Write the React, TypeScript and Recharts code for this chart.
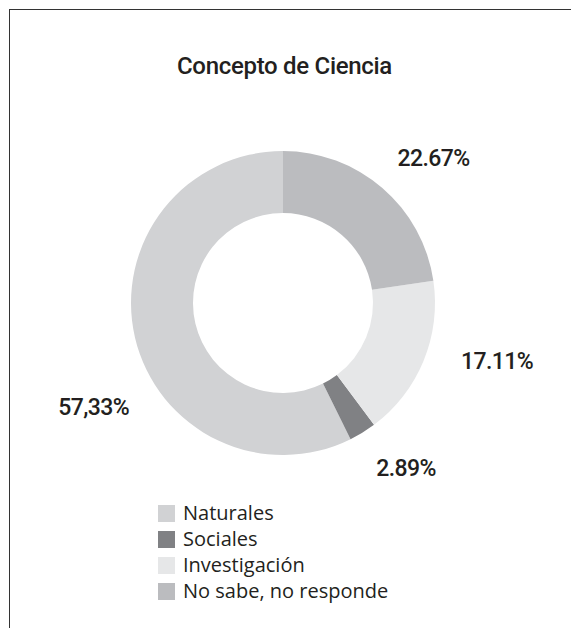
import React from "react";
import { PieChart, Pie, Cell, Legend } from "recharts";

const categories = ["Naturales", "Sociales", "Investigación", "No sabe, no responde"];
const values = [57.33, 2.89, 17.11, 22.67];
const valueLabels = ["57,33%", "2.89%", "17.11%", "22.67%"];
const colors = ["#d1d2d4", "#808184", "#e6e7e8", "#bbbcbf"];

const data = categories.map((name, i) => ({ name, value: values[i], label: valueLabels[i] }));

// label nudges (dx, dy) relative to the computed radial position
const labelNudge = [
  [17, 56],
  [12, -15],
  [18, -22],
  [12, 16],
];

const RADIAN = Math.PI / 180;

const renderLabel = (props: any) => {
  const { cx, cy, midAngle, outerRadius, index } = props;
  const r = outerRadius + 60;
  const x = cx + r * Math.cos(-midAngle * RADIAN) + labelNudge[index][0];
  const y = cy + r * Math.sin(-midAngle * RADIAN) + labelNudge[index][1];
  return (
    <text
      x={x}
      y={y}
      textAnchor="middle"
      dominantBaseline="central"
      fontFamily="Roboto"
      fontWeight={500}
      fontSize={23}
      letterSpacing={-0.6}
      fill="#231f20"
    >
      {valueLabels[index]}
    </text>
  );
};

const renderLegend = (props: any) => {
  const payload = [...(props.payload || [])].sort(
    (a: any, b: any) => categories.indexOf(a.value) - categories.indexOf(b.value)
  );
  return (
    <div>
      {payload.map((entry: any, i: number) => (
        <div key={i} style={{ display: "flex", alignItems: "center", height: 26 }}>
          <div style={{ width: 17, height: 17, background: entry.color, marginRight: 8 }} />
          <span style={{ fontFamily: "'Open Sans'", fontSize: 20, color: "#231f20", lineHeight: "26px" }}>
            {entry.value}
          </span>
        </div>
      ))}
    </div>
  );
};

export default function App() {
  return (
    <div style={{ position: "absolute", left: 0, top: 0, width: 571, height: 628, background: "#fff" }}>
      <div
        style={{
          position: "absolute",
          left: 9,
          top: 9,
          width: 562,
          height: 619,
          borderTop: "1px solid #333",
          borderLeft: "1px solid #333",
        }}
      />
      <div
        style={{
          position: "absolute",
          left: 0,
          top: 51,
          width: 569,
          textAlign: "center",
          fontFamily: "Roboto",
          fontWeight: 500,
          fontSize: 24,
          letterSpacing: -0.3,
          color: "#231f20",
          lineHeight: "30px",
        }}
      >
        Concepto de Ciencia
      </div>
      <div style={{ position: "absolute", left: 0, top: 0 }}>
        <PieChart width={571} height={628} margin={{ top: 0, right: 0, bottom: 0, left: 0 }}>
          <Pie
            data={data}
            dataKey="value"
            nameKey="name"
            cx={283}
            cy={303}
            innerRadius={90}
            outerRadius={152}
            startAngle={90}
            endAngle={450}
            stroke="none"
            label={renderLabel}
            labelLine={false}
            isAnimationActive={false}
          >
            {data.map((d, i) => (
              <Cell key={d.name} fill={colors[i]} />
            ))}
          </Pie>
          <Legend
            layout="vertical"
            verticalAlign="bottom"
            align="center"
            itemSorter={null as any}
            content={renderLegend}
            wrapperStyle={{ position: "absolute", left: 158, top: 500, bottom: "auto", width: 300 }}
          />
        </PieChart>
      </div>
    </div>
  );
}
